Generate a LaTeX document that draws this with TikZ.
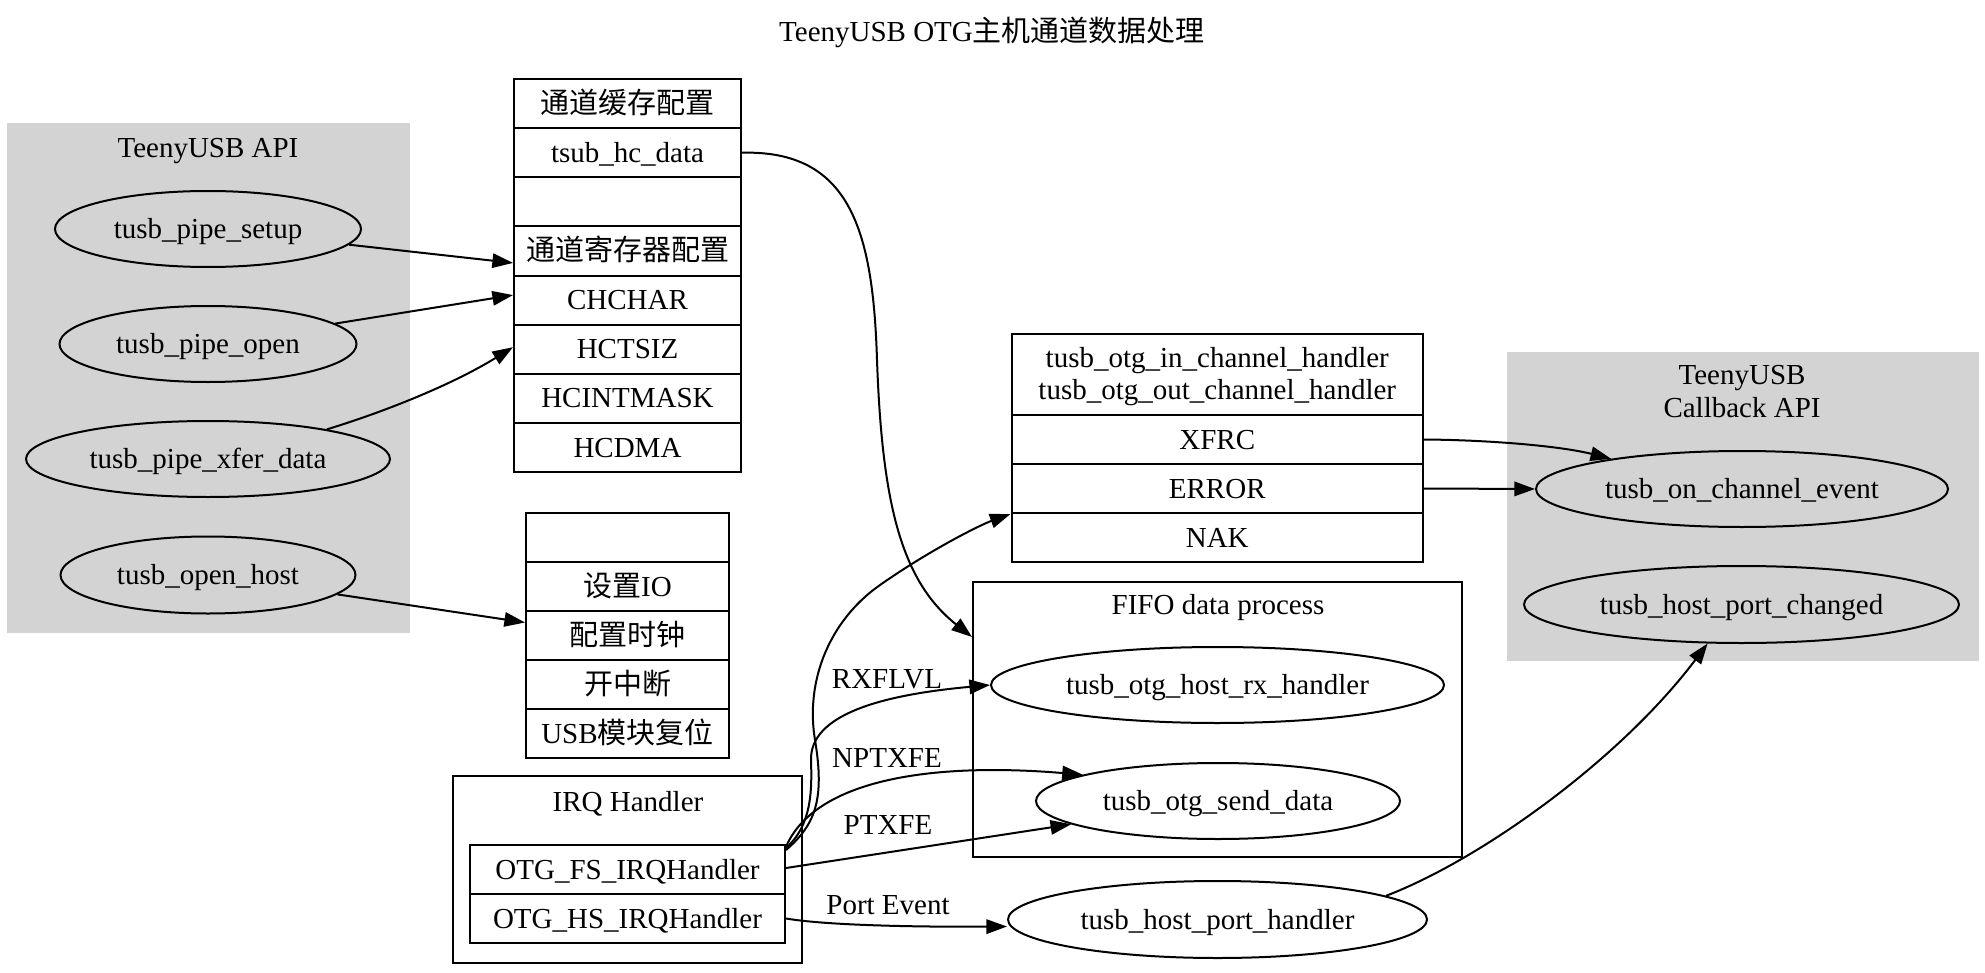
\documentclass[tikz,border=0pt]{standalone}
\usepackage{fontspec}
\setmainfont{Liberation Serif}
\newfontfamily\cjk{Noto Sans CJK SC}
\usetikzlibrary{arrows.meta,shapes.geometric}
\definecolor{gvgray}{HTML}{D3D3D3}
\begin{document}
\begin{tikzpicture}[x=0.5pt,y=-0.5pt,
  font=\fontsize{14.5pt}{16.2pt}\selectfont,
  lbl/.style={inner sep=0pt,text height=12.6pt,text depth=3pt},
  row/.style={draw,line width=1pt,inner sep=0pt,text height=12.6pt,text depth=3pt,minimum height=24.56pt},
  ell/.style={draw,ellipse,line width=1pt,inner sep=0pt,minimum height=38pt,text height=12.6pt,text depth=3pt},
  edge/.style={line width=1pt,-{Triangle[length=10.3pt,width=7.2pt]}},
  gcluster/.style={fill=gvgray,draw=gvgray,inner sep=0pt},
  wcluster/.style={draw,line width=1pt,inner sep=0pt}]
\fill[white] (0,0) rectangle (1985,973);
\useasboundingbox (0,0) rectangle (1985,973);

% title
\node[lbl] (title) at (992,32) {TeenyUSB OTG{\cjk 主机通道数据处理}};

% clusters
\node[gcluster,minimum width=201pt,minimum height=254.5pt] (api) at (208,377.5) {};
\node[wcluster,minimum width=174.5pt,minimum height=93.5pt] (irq) at (627.5,869.5) {};
\node[wcluster,minimum width=244.5pt,minimum height=137.5pt] (fifo) at (1217.5,719.5) {};
\node[gcluster,minimum width=235.5pt,minimum height=154pt] (cb) at (1742.5,506) {};

\node[lbl] (apilbl) at (208,148) {TeenyUSB API};
\node[lbl] (irqlbl) at (628,802) {IRQ Handler};
\node[lbl] (fifolbl) at (1218,605) {FIFO data process};
\node[lbl] (cblbla) at (1742,375) {TeenyUSB};
\node[lbl] (cblblb) at (1742,407.5) {Callback API};

% API ellipses
\node[ell,minimum width=153pt] (setup) at (208,229) {tusb\_pipe\_setup};
\node[ell,minimum width=148.5pt] (open) at (208,344) {tusb\_pipe\_open};
\node[ell,minimum width=182pt] (xfer) at (208,459) {tusb\_pipe\_xfer\_data};
\node[ell,minimum width=147.5pt,minimum height=38.5pt] (openhost) at (208,575) {tusb\_open\_host};

% record 1
\begin{scope}[every node/.style={row,minimum width=113.5pt}]
\node (r1a) at (627.5,103.56) {\cjk 通道缓存配置};
\node (r1b) at (627.5,152.69) {tsub\_hc\_data};
\node (r1c) at (627.5,201.81) {};
\node (r1d) at (627.5,250.94) {\cjk 通道寄存器配置};
\node (r1e) at (627.5,300.06) {CHCHAR};
\node (r1f) at (627.5,349.19) {HCTSIZ};
\node (r1g) at (627.5,398.31) {HCINTMASK};
\node (r1h) at (627.5,447.44) {HCDMA};
\end{scope}

% record 2
\begin{scope}[every node/.style={row,minimum width=101.5pt,minimum height=24.5pt}]
\node (r2a) at (627.5,537.5) {};
\node (r2b) at (627.5,586.5) {{\cjk 设置}IO};
\node (r2c) at (627.5,635.5) {\cjk 配置时钟};
\node (r2d) at (627.5,684.5) {\cjk 开中断};
\node (r2e) at (627.5,733.5) {USB{\cjk 模块复位}};
\end{scope}

% IRQ record
\begin{scope}[every node/.style={row,minimum width=157.5pt,minimum height=24.5pt}]
\node (irq1) at (627.5,869.5) {OTG\_FS\_IRQHandler};
\node (irq2) at (627.5,918.5) {OTG\_HS\_IRQHandler};
\end{scope}

% handler record
\begin{scope}[every node/.style={row,minimum width=205.75pt,minimum height=24.5pt}]
\node[minimum height=40.5pt] (h1) at (1217.25,374.5) {};
\node (h2) at (1217.25,439.5) {XFRC};
\node (h3) at (1217.25,488.5) {ERROR};
\node (h4) at (1217.25,537.5) {NAK};
\end{scope}
\node[lbl] (h1a) at (1217.25,358) {tusb\_otg\_in\_channel\_handler};
\node[lbl] (h1b) at (1217.25,390) {tusb\_otg\_out\_channel\_handler};

% FIFO ellipses
\node[ell,minimum width=226.5pt] (rx) at (1217.5,685) {tusb\_otg\_host\_rx\_handler};
\node[ell,minimum width=182pt] (send) at (1218,801) {tusb\_otg\_send\_data};
\node[ell,minimum width=209.5pt,minimum height=38.5pt] (porth) at (1217.5,919.5) {tusb\_host\_port\_handler};

% callback ellipses
\node[ell,minimum width=206pt] (onch) at (1742,489) {tusb\_on\_channel\_event};
\node[ell,minimum width=217.5pt,minimum height=38.5pt] (portc) at (1741.5,604.5) {tusb\_host\_port\_changed};

% edge labels
\node[lbl] (lrx) at (887,679) {RXFLVL};
\node[lbl] (lnp) at (887,758) {NPTXFE};
\node[lbl] (lpt) at (888,825) {PTXFE};
\node[lbl] (lpe) at (888,905) {Port Event};

% edges
\draw[edge] (setup) -- ([yshift=-6pt]r1d.west);
\draw[edge] (open) -- ([yshift=2.5pt]r1e.west);
\draw[edge] (xfer.14) .. controls (390,410) and (455,383) .. ([yshift=1pt]r1f.west);
\draw[edge] (openhost) -- ([yshift=6.5pt]r2c.west);

\draw[edge] (r1b.east) .. controls (850,150) and (873,230) .. (877,360)
  .. controls (882,500) and (900,580) .. ([yshift=41.25pt]fifo.west);

\draw[edge] ([yshift=9.75pt]irq1.east) .. controls (815,825) and (825,800) .. (815,740)
  .. controls (805,680) and (830,620) .. (880,585)
  .. controls (930,550) and (980,525) .. (h3.south west);
\draw[edge] ([yshift=10.75pt]irq1.east) .. controls (812,825) and (812,790) .. (811,760)
  .. controls (810,715) and (880,695) .. (rx.west);
\draw[edge] ([yshift=11.4pt]irq1.east) .. controls (815,780) and (930,762) .. (send.169.3);
\draw[edge] ([yshift=0.75pt]irq1.east) -- (send.189);
\draw[edge] (irq2.east) .. controls (830,926) and (930,927) .. ([yshift=-3.5pt]porth.west);

\draw[edge] (h2.east) .. controls (1490,440) and (1560,446) .. (onch.167.4);
\draw[edge] (h3.east) -- (onch.west);
\draw[edge] (porth.8.25) .. controls (1480,860) and (1620,760) .. (portc.229);
\end{tikzpicture}
\end{document}
